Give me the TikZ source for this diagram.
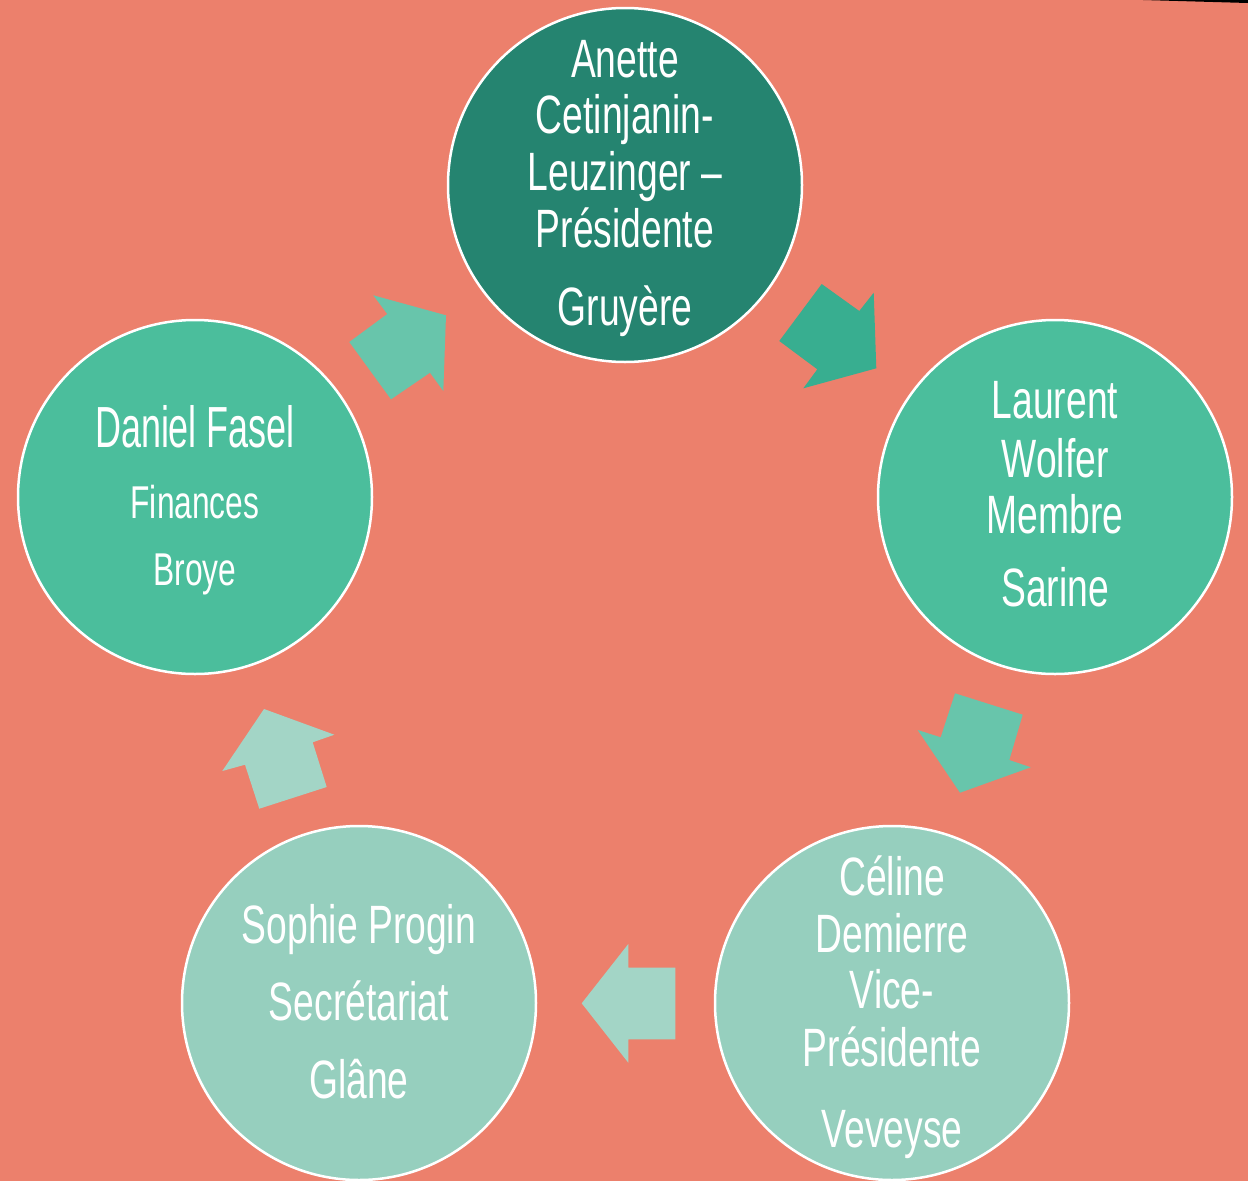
\documentclass[tikz,border=0pt]{standalone}
\usepackage{fontspec}
\setmainfont{Liberation Sans}[FakeStretch=0.69]
\newfontfamily\narrowfont{Liberation Sans}[FakeStretch=0.62]
\definecolor{bg}{HTML}{EC806C}
\definecolor{cdark}{HTML}{258470}
\definecolor{cmid}{HTML}{4BBE9C}
\definecolor{clight}{HTML}{96CFBE}
\definecolor{adark}{HTML}{38AE90}
\definecolor{amid}{HTML}{68C5AB}
\definecolor{alight}{HTML}{A3D5C6}
\tikzset{
  member/.style={circle, draw=white, line width=2.5pt, minimum size=354pt, inner sep=0pt},
  txt/.style={text=white, anchor=base, inner sep=0pt},
  big/.style={font=\fontsize{54}{54}\selectfont},
  small/.style={font=\fontsize{46}{46}\selectfont},
  large/.style={font=\narrowfont\fontsize{58}{58}\selectfont},
}
\begin{document}
\begin{tikzpicture}[x=1pt,y=-1pt]
\useasboundingbox (0,0) rectangle (1248,1181);
\fill[bg] (0,0) rectangle (1248,1181);
\fill[black] (1143,0) -- (1248,0) -- (1248,3) -- cycle;

% circles
\node[member, fill=cdark] (c1) at (625,185) {};
\node[member, fill=cmid] (c2) at (1055,497) {};
\node[member, fill=clight] (c3) at (892,1003) {};
\node[member, fill=clight] (c4) at (359,1003) {};
\node[member, fill=cmid] (c5) at (195,497) {};

% block arrows
\fill[adark] (821.7,284) -- (859.3,311) -- (873.7,292.7) -- (876.3,368.3) -- (803.3,388.3) -- (817.3,369.3) -- (779.3,341) -- cycle;
\fill[amid] (955,693.3) -- (1022.7,714.7) -- (1009.3,760) -- (1030.7,767.3) -- (960,792.7) -- (917.7,730) -- (940.7,737.3) -- cycle;
\fill[alight] (628.3,944) -- (628.3,967.7) -- (675.3,967.7) -- (675.3,1039.3) -- (628.3,1039.3) -- (628.3,1062.7) -- (581.7,1003.3) -- cycle;
\fill[alight] (264,709) -- (334.3,734.7) -- (312.7,742.3) -- (326.7,787) -- (259.3,808.7) -- (245,764.7) -- (222.3,771) -- cycle;
\fill[amid] (373.3,295.3) -- (446,315.3) -- (443.3,391) -- (430,372.7) -- (391,399.3) -- (349.3,342) -- (387.3,314) -- cycle;

% texts top
\node[txt,big] (t1a) at (625,77) {Anette};
\node[txt,big] (t1b) at (625,133) {Cetinjanin-};
\node[txt,big] (t1c) at (625,190) {Leuzinger –};
\node[txt,big] (t1d) at (625,247) {Présidente};
\node[txt,big] (t1e) at (625,325) {Gruyère};
% right
\node[txt,big] (t2a) at (1055,418) {Laurent};
\node[txt,big] (t2b) at (1055,477) {Wolfer};
\node[txt,big] (t2c) at (1055,533) {Membre};
\node[txt,big] (t2d) at (1055,606) {Sarine};
% bottom right
\node[txt,big] (t3a) at (892,895) {Céline};
\node[txt,big] (t3b) at (892,952) {Demierre};
\node[txt,big] (t3c) at (892,1008) {Vice-};
\node[txt,big] (t3d) at (892,1066) {Présidente};
\node[txt,big] (t3e) at (892,1147) {Veveyse};
% bottom left
\node[txt,big] (t4a) at (359,943) {Sophie Progin};
\node[txt,big] (t4b) at (359,1020) {Secrétariat};
\node[txt,big] (t4c) at (359,1098) {Glâne};
% left
\node[txt,large] (t5a) at (195,447) {Daniel Fasel};
\node[txt,small] (t5b) at (195,518) {Finances};
\node[txt,small] (t5c) at (195,585) {Broye};
\end{tikzpicture}
\end{document}
